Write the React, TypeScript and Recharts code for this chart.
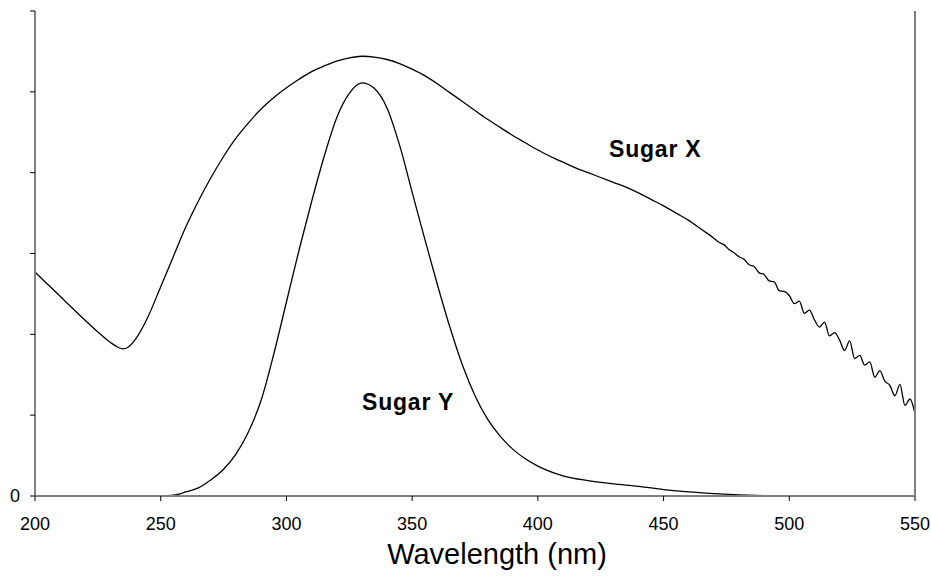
import { LineChart, Line, XAxis, YAxis } from "recharts";

// wavelength (nm) -> absorbance
const sugarXWavelengths = [
  200, 205, 210, 215, 220, 225, 230, 233, 235, 237, 240, 245, 250, 255, 260, 265, 270, 275, 280, 285,
  290, 295, 300, 305, 310, 315, 320, 325, 330, 335, 340, 345, 350, 355, 360, 365, 370, 375, 380, 385,
  390, 395, 400, 405, 410, 415, 420, 425, 430, 435, 440, 445, 450, 455, 460, 465,
  470, 472, 474, 476, 478, 480, 482, 484, 486, 488, 490, 492, 494, 496, 498, 500, 502, 504, 506, 508,
  510, 512, 514, 516, 518, 520, 522, 524, 526, 528, 530, 532, 534, 536, 538, 540, 542, 544, 546, 548, 550,
];
const sugarXValues = [
  2.77, 2.62, 2.47, 2.32, 2.17, 2.03, 1.9, 1.84, 1.82, 1.84, 1.94, 2.22, 2.59, 2.96, 3.33, 3.65, 3.94, 4.2, 4.43, 4.62,
  4.79, 4.93, 5.05, 5.155, 5.25, 5.32, 5.38, 5.42, 5.44, 5.43, 5.4, 5.35, 5.28, 5.2, 5.1, 4.99, 4.88, 4.77, 4.66, 4.56,
  4.46, 4.37, 4.28, 4.2, 4.13, 4.06, 4.0, 3.94, 3.88, 3.82, 3.75, 3.67, 3.59, 3.5, 3.41, 3.3,
  3.19, 3.14, 3.11, 3.05, 3.01, 2.96, 2.93, 2.86, 2.84, 2.76, 2.74, 2.66, 2.65, 2.54, 2.53, 2.48, 2.38, 2.41, 2.26, 2.3,
  2.18, 2.09, 2.15, 1.98, 2.02, 1.93, 1.8, 1.92, 1.7, 1.74, 1.62, 1.66, 1.47, 1.55, 1.42, 1.37, 1.24, 1.38, 1.12, 1.2, 1.02,
];

const sugarYWavelengths = [
  202, 208, 210, 250, 255, 260, 265, 270, 275, 280, 285, 290, 295, 300, 305, 310, 315, 320, 325, 330,
  335, 340, 345, 350, 355, 360, 365, 370, 375, 380, 385, 390, 395, 400, 410, 420, 430, 440, 450, 460,
  470, 480, 490, 497,
];
const sugarYValues = [
  0, 0, null, 0, 0.01, 0.05, 0.1, 0.2, 0.33, 0.52, 0.8, 1.19, 1.76, 2.4, 3.04, 3.64, 4.2, 4.68, 4.98, 5.11,
  5.04, 4.8, 4.34, 3.76, 3.18, 2.62, 2.09, 1.62, 1.24, 0.95, 0.74, 0.58, 0.46, 0.37, 0.25, 0.19, 0.15, 0.12, 0.08, 0.05,
  0.03, 0.015, 0.005, 0,
];

const xTicks = [200, 250, 300, 350, 400, 450, 500, 550];
const yTicks = [0, 1, 2, 3, 4, 5, 6];
const yTickLabels = ["0", "", "", "", "", "", ""];

const sugarX = sugarXWavelengths.map((w, i) => ({ w, v: sugarXValues[i] }));
const sugarY = sugarYWavelengths.map((w, i) => ({ w, v: sugarYValues[i] }));

const FONT = "'Liberation Sans', Arial, sans-serif";
const AXIS = { stroke: "#808080", strokeWidth: 2 };
const TICK = { stroke: "#000", strokeWidth: 1 };

export default function App() {
  return (
    <div style={{ position: "absolute", left: 0, top: 0, width: 931, height: 579, fontFamily: FONT, background: "#fff" }}>
      <LineChart width={931} height={579} margin={{ top: 11, right: 0, bottom: 0, left: 0 }}>
        <XAxis
          xAxisId="b"
          dataKey="w"
          type="number"
          domain={[200, 550]}
          ticks={xTicks}
          allowDataOverflow
          height={83}
          axisLine={AXIS}
          tickLine={TICK}
          tickSize={5}
          tickMargin={16}
          tick={{ fill: "#000", fontSize: 18, fontFamily: FONT }}
        />
        <XAxis xAxisId="t" orientation="top" dataKey="w" type="number" domain={[200, 550]} height={0} axisLine={AXIS} tick={false} tickLine={false} />
        <YAxis
          yAxisId="l"
          type="number"
          domain={[0, 6]}
          ticks={yTicks}
          width={35}
          axisLine={AXIS}
          tickLine={TICK}
          tickSize={5}
          tickMargin={10}
          tickFormatter={(v: number) => yTickLabels[yTicks.indexOf(v)] ?? ""}
          tick={{ fill: "#000", fontSize: 18, fontFamily: FONT }}
        />
        <YAxis
          yAxisId="r"
          orientation="right"
          type="number"
          domain={[0, 6]}
          ticks={yTicks}
          width={16}
          axisLine={AXIS}
          tickLine={TICK}
          tickSize={5}
          tickFormatter={() => ""}
        />
        <Line
          xAxisId="b"
          yAxisId="l"
          data={sugarX}
          dataKey="v"
          type="monotone"
          stroke="#000"
          strokeWidth={1.3}
          dot={false}
          isAnimationActive={false}
        />
        <Line
          xAxisId="b"
          yAxisId="l"
          data={sugarY}
          dataKey="v"
          type="monotone"
          stroke="#000"
          strokeWidth={1.3}
          dot={false}
          connectNulls={false}
          isAnimationActive={false}
        />
      </LineChart>
      <div style={{ position: "absolute", left: 609, top: 136, fontSize: 23, fontWeight: 700, letterSpacing: 0.8, whiteSpace: "nowrap" }}>
        Sugar X
      </div>
      <div style={{ position: "absolute", left: 362, top: 389, fontSize: 23, fontWeight: 700, letterSpacing: 0.8, whiteSpace: "nowrap" }}>
        Sugar Y
      </div>
      <div style={{ position: "absolute", left: 497, top: 538, transform: "translateX(-50%)", fontSize: 29, whiteSpace: "nowrap" }}>
        Wavelength (nm)
      </div>
    </div>
  );
}
